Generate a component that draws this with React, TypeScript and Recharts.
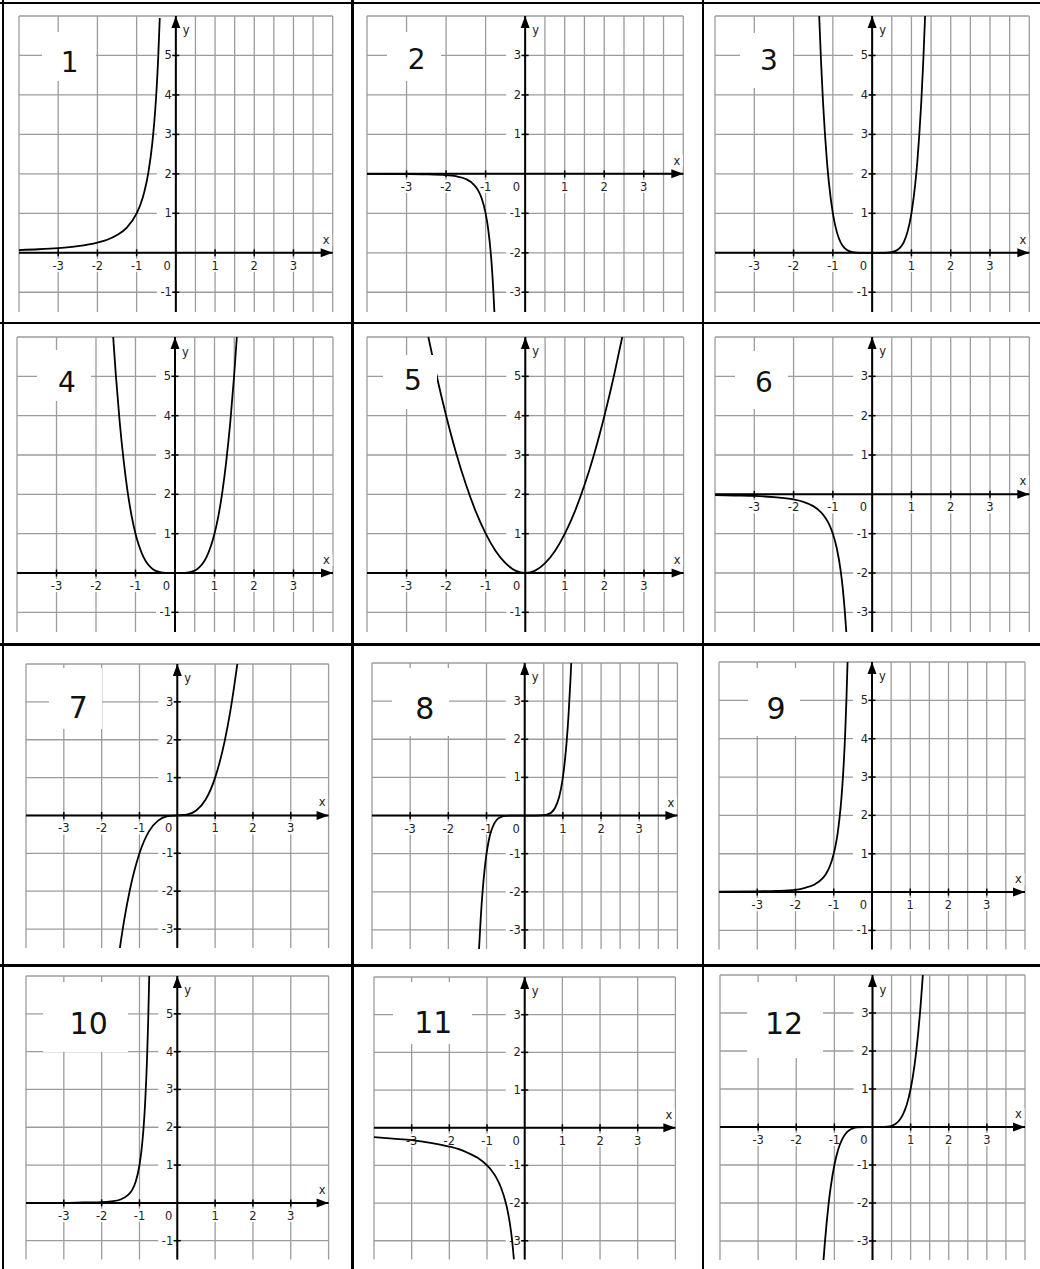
import React from "react";
import {
  LineChart,
  Line,
  XAxis,
  YAxis,
  CartesianGrid,
  ReferenceLine,
  ReferenceDot,
} from "recharts";

// grid + tick values
const gridX = [-4, -3.5, -3, -2.5, -2, -1.5, -1, -0.5, 0, 0.5, 1, 1.5, 2, 2.5, 3, 3.5, 4];
const gridYTall = [-1.5, -1, -0.5, 0, 0.5, 1, 1.5, 2, 2.5, 3, 3.5, 4, 4.5, 5, 5.5, 6];
const gridYSquare = [-3.5, -3, -2.5, -2, -1.5, -1, -0.5, 0, 0.5, 1, 1.5, 2, 2.5, 3, 3.5, 4];
const xTickLabels = [-3, -2, -1, 1, 2, 3];
const yTickLabelsTall = [-1, 1, 2, 3, 4, 5];
const yTickLabelsSquare = [-3, -2, -1, 1, 2, 3];

const panelNames = ["1", "2", "3", "4", "5", "6", "7", "8", "9", "10", "11", "12"];
const panelKinds = ["tall", "square", "tall", "tall", "tall", "square", "square", "square", "tall", "tall", "square", "square"];

// curves
const curve1X = [-4, -3.5, -3, -2.5, -2, -1.75, -1.5, -1.25, -1, -0.9, -0.8, -0.7, -0.6, -0.55, -0.5, -0.45, -0.41];
const curve1Y = [0.07, 0.09, 0.12, 0.17, 0.26, 0.33, 0.45, 0.64, 1, 1.23, 1.56, 2.04, 2.78, 3.31, 4, 4.94, 5.95];

const curve2X = [-4, -3, -2.5, -2, -1.75, -1.5, -1.3, -1.2, -1.1, -1, -0.95, -0.9, -0.85, -0.8, -0.778];
const curve2Y = [0, -0.004, -0.01, -0.03, -0.06, -0.13, -0.27, -0.4, -0.62, -1, -1.29, -1.69, -2.25, -3.05, -3.5];

const curve3X = [-1.348, -1.3, -1.25, -1.2, -1.15, -1.1, -1, -0.9, -0.8, -0.7, -0.6, -0.5, -0.3, 0, 0.3, 0.5, 0.6, 0.7, 0.8, 0.9, 1, 1.1, 1.15, 1.2, 1.25, 1.3, 1.348];
const curve3Y = [6, 4.83, 3.81, 2.99, 2.31, 1.77, 1, 0.53, 0.26, 0.12, 0.05, 0.02, 0, 0, 0, 0.02, 0.05, 0.12, 0.26, 0.53, 1, 1.77, 2.31, 2.99, 3.81, 4.83, 6];

const curve4X = [-1.565, -1.5, -1.4, -1.3, -1.2, -1.1, -1, -0.9, -0.8, -0.7, -0.6, -0.5, -0.4, -0.3, -0.2, 0, 0.2, 0.3, 0.4, 0.5, 0.6, 0.7, 0.8, 0.9, 1, 1.1, 1.2, 1.3, 1.4, 1.5, 1.565];
const curve4Y = [6, 5.06, 3.84, 2.86, 2.07, 1.46, 1, 0.66, 0.41, 0.24, 0.13, 0.06, 0.03, 0.01, 0, 0, 0, 0.01, 0.03, 0.06, 0.13, 0.24, 0.41, 0.66, 1, 1.46, 2.07, 2.86, 3.84, 5.06, 6];

const curve5X = [-2.45, -2.25, -2, -1.75, -1.5, -1.25, -1, -0.75, -0.5, -0.25, 0, 0.25, 0.5, 0.75, 1, 1.25, 1.5, 1.75, 2, 2.25, 2.45];
const curve5Y = [6, 5.06, 4, 3.06, 2.25, 1.56, 1, 0.56, 0.25, 0.06, 0, 0.06, 0.25, 0.56, 1, 1.56, 2.25, 3.06, 4, 5.06, 6];

const curve6X = [-4, -3.5, -3, -2.5, -2, -1.75, -1.5, -1.3, -1.2, -1.1, -1, -0.9, -0.8, -0.75, -0.7, -0.658];
const curve6Y = [-0.02, -0.03, -0.04, -0.07, -0.13, -0.19, -0.3, -0.46, -0.58, -0.75, -1, -1.37, -1.95, -2.37, -2.92, -3.5];

const curve7X = [-1.518, -1.4, -1.25, -1, -0.75, -0.5, -0.25, 0, 0.25, 0.5, 0.75, 1, 1.25, 1.4, 1.5, 1.587];
const curve7Y = [-3.5, -2.74, -1.95, -1, -0.42, -0.13, -0.02, 0, 0.02, 0.13, 0.42, 1, 1.95, 2.74, 3.38, 4];

const curve8X = [-1.196, -1.15, -1.1, -1.05, -1, -0.95, -0.9, -0.8, -0.7, -0.6, -0.5, -0.3, 0, 0.3, 0.5, 0.6, 0.7, 0.8, 0.9, 0.95, 1, 1.05, 1.1, 1.15, 1.2, 1.219];
const curve8Y = [-3.5, -2.66, -1.95, -1.41, -1, -0.7, -0.48, -0.21, -0.08, -0.03, -0.01, 0, 0, 0, 0.01, 0.03, 0.08, 0.21, 0.48, 0.7, 1, 1.41, 1.95, 2.66, 3.58, 4];

const curve9X = [-4, -3, -2.5, -2, -1.75, -1.5, -1.3, -1.2, -1.1, -1, -0.95, -0.9, -0.85, -0.8, -0.75, -0.7, -0.67, -0.639];
const curve9Y = [0.01, 0.02, 0.03, 0.06, 0.11, 0.2, 0.35, 0.48, 0.68, 1, 1.23, 1.52, 1.92, 2.44, 3.16, 4.16, 4.98, 6];

const curve10X = [-4, -3, -2.5, -2, -1.75, -1.5, -1.3, -1.2, -1.1, -1, -0.95, -0.9, -0.85, -0.8, -0.77, -0.742];
const curve10Y = [0, 0, 0.01, 0.02, 0.04, 0.09, 0.21, 0.33, 0.56, 1, 1.36, 1.88, 2.65, 3.81, 4.8, 6];

const curve11X = [-4, -3.5, -3, -2.5, -2, -1.75, -1.5, -1.25, -1, -0.875, -0.75, -0.625, -0.5, -0.45, -0.4, -0.35, -0.32, -0.286];
const curve11Y = [-0.25, -0.29, -0.33, -0.4, -0.5, -0.57, -0.67, -0.8, -1, -1.14, -1.33, -1.6, -2, -2.22, -2.5, -2.86, -3.13, -3.5];

const curve12X = [-1.285, -1.25, -1.2, -1.15, -1.1, -1, -0.9, -0.8, -0.7, -0.6, -0.5, -0.4, -0.2, 0, 0.2, 0.4, 0.5, 0.6, 0.7, 0.8, 0.9, 1, 1.1, 1.15, 1.2, 1.25, 1.3, 1.32];
const curve12Y = [-3.5, -3.05, -2.49, -2.01, -1.61, -1, -0.59, -0.33, -0.17, -0.08, -0.03, -0.01, 0, 0, 0, 0.01, 0.03, 0.08, 0.17, 0.33, 0.59, 1, 1.61, 2.01, 2.49, 3.05, 3.71, 4];

const curveXs = [curve1X, curve2X, curve3X, curve4X, curve5X, curve6X, curve7X, curve8X, curve9X, curve10X, curve11X, curve12X];
const curveYs = [curve1Y, curve2Y, curve3Y, curve4Y, curve5Y, curve6Y, curve7Y, curve8Y, curve9Y, curve10Y, curve11Y, curve12Y];

// page layout: plot rect [left, top, width, height]
const plotBoxes = [
  [19.3, 15.7, 313.7, 296],
  [366.7, 15.7, 316.3, 296],
  [715, 15.7, 314.3, 296],
  [17.3, 337, 316, 295],
  [366.7, 337, 316.6, 295],
  [715, 337, 314.3, 295],
  [25.7, 663.7, 302.6, 284],
  [372.3, 662.7, 305.4, 286],
  [719, 661.7, 306, 287.6],
  [25.7, 975.7, 302.6, 283.6],
  [374.3, 976.7, 301.4, 282.6],
  [720, 975, 305, 285],
];
// white number boxes [left, top, width, height] and number centres
const nameBoxes = [
  [42, 32, 54, 49],
  [387, 32, 54, 49],
  [740, 33, 53, 55],
  [37, 350, 54, 51],
  [383, 355, 54, 54],
  [735, 351, 53, 58],
  [49, 668, 53, 61],
  [392, 668, 57, 68],
  [748, 668, 52, 68],
  [43, 982, 85, 70],
  [393, 982, 79, 62],
  [747, 982, 76, 76],
];
const nameCenters = [
  [69.7, 62.7], [416.7, 60], [769, 61],
  [67, 383], [413, 381], [764, 382.7],
  [78.3, 707.7], [424.7, 708.5], [776, 709],
  [88.7, 1024], [433.3, 1023], [784, 1024],
];

const FONT = "'DejaVu Sans', Verdana, sans-serif";
const LABEL = "#222";
const M = 14;

const xTickShape = (label: string) => (p: any) => (
  <g>
    <rect x={p.cx - 9} y={p.cy + 6} width={19} height={13} fill="#fff" />
    <line x1={p.cx} x2={p.cx} y1={p.cy - 3.5} y2={p.cy + 3.5} stroke="#000" strokeWidth={1.5} />
    <text x={p.cx} y={p.cy + 17} textAnchor="middle" fontSize={11.5} fontFamily={FONT} fill={LABEL}>
      {label}
    </text>
  </g>
);

const yTickShape = (label: string) => (p: any) => (
  <g>
    <rect x={p.cx - 19} y={p.cy - 7} width={15} height={14} fill="#fff" />
    <line x1={p.cx - 3.5} x2={p.cx + 3.5} y1={p.cy} y2={p.cy} stroke="#000" strokeWidth={1.5} />
    <text x={p.cx - 4} y={p.cy + 4} textAnchor="end" fontSize={11.5} fontFamily={FONT} fill={LABEL}>
      {label}
    </text>
  </g>
);

const originShape = (p: any) => (
  <g>
    <rect x={p.cx - 14} y={p.cy + 6} width={11} height={13} fill="#fff" />
    <text x={p.cx - 5} y={p.cy + 17} textAnchor="end" fontSize={11.5} fontFamily={FONT} fill={LABEL}>
      0
    </text>
  </g>
);

const yArrowShape = (p: any) => (
  <g>
    <rect x={p.cx + 5} y={p.cy + 9} width={12} height={13} fill="#fff" />
    <text x={p.cx + 7} y={p.cy + 18.5} fontSize={11.5} fontFamily={FONT} fill={LABEL}>
      y
    </text>
    <polygon points={`${p.cx},${p.cy} ${p.cx - 4.5},${p.cy + 12} ${p.cx + 4.5},${p.cy + 12}`} fill="#000" />
  </g>
);

const xArrowShape = (p: any) => (
  <g>
    <rect x={p.cx - 12.5} y={p.cy - 19} width={12} height={12} fill="#fff" />
    <text x={p.cx - 6.5} y={p.cy - 9} textAnchor="middle" fontSize={11.5} fontFamily={FONT} fill={LABEL}>
      x
    </text>
    <polygon points={`${p.cx},${p.cy} ${p.cx - 12},${p.cy - 4.5} ${p.cx - 12},${p.cy + 4.5}`} fill="#000" />
  </g>
);

function Panel({ idx }: { idx: number }) {
  const [left, top, w, h] = plotBoxes[idx];
  const tall = panelKinds[idx] === "tall";
  const gridY = tall ? gridYTall : gridYSquare;
  const yLabels = tall ? yTickLabelsTall : yTickLabelsSquare;
  const yMin = gridY[0];
  const yMax = gridY[gridY.length - 1];
  const pts = curveXs[idx].map((x, i) => ({ x, y: curveYs[idx][i] }));
  const [bx, by, bw, bh] = nameBoxes[idx];
  const [tx, ty] = nameCenters[idx];
  const fs = idx < 6 ? 28 : 30;
  const pos: React.CSSProperties = { position: "absolute", left: left - M, top: top - M };
  const size = { width: w + 2 * M, height: h + 2 * M, margin: { top: M, right: M, bottom: M, left: M } };

  return (
    <>
      {/* grid, axes and labels */}
      <div style={pos}>
        <LineChart {...size}>
          <CartesianGrid stroke="#9c9c9c" strokeWidth={1.3} verticalValues={gridX} horizontalValues={gridY} />
          <XAxis type="number" dataKey="x" domain={[-4, 4]} ticks={gridX} hide allowDataOverflow />
          <YAxis type="number" domain={[yMin, yMax]} ticks={gridY} hide allowDataOverflow />
          {xTickLabels.map((v) => (
            <ReferenceDot key={`xt${v}`} x={v} y={0} r={0} ifOverflow="visible" shape={xTickShape(String(v))} />
          ))}
          {yLabels.map((v) => (
            <ReferenceDot key={`yt${v}`} x={0} y={v} r={0} ifOverflow="visible" shape={yTickShape(String(v))} />
          ))}
          <ReferenceDot x={0} y={0} r={0} ifOverflow="visible" shape={originShape} />
          <ReferenceLine y={0} stroke="#000" strokeWidth={2} ifOverflow="visible" />
          <ReferenceLine x={0} stroke="#000" strokeWidth={2} ifOverflow="visible" />
          <ReferenceDot x={0} y={yMax} r={0} ifOverflow="visible" shape={yArrowShape} />
          <ReferenceDot x={4} y={0} r={0} ifOverflow="visible" shape={xArrowShape} />
        </LineChart>
      </div>
      {/* the curve, on top */}
      <div style={pos}>
        <LineChart {...size}>
          <XAxis type="number" dataKey="x" domain={[-4, 4]} hide allowDataOverflow />
          <YAxis type="number" domain={[yMin, yMax]} hide allowDataOverflow />
          <Line
            data={pts}
            dataKey="y"
            type="monotone"
            dot={false}
            activeDot={false}
            stroke="#000"
            strokeWidth={1.8}
            isAnimationActive={false}
          />
        </LineChart>
      </div>
      <div style={{ position: "absolute", left: bx, top: by, width: bw, height: bh, background: "#fff" }} />
      <div
        style={{
          position: "absolute",
          left: tx,
          top: ty,
          transform: "translate(-50%, -50%)",
          fontFamily: FONT,
          fontSize: fs,
          lineHeight: 1,
          color: "#111",
          whiteSpace: "nowrap",
        }}
      >
        {panelNames[idx]}
      </div>
    </>
  );
}

const vLines = [1.7, 351, 701.7];
const hLines = [1.7, 321.7, 643.3, 964.3];

export default function App() {
  return (
    <div
      style={{
        position: "absolute",
        left: 0,
        top: 0,
        width: 1040,
        height: 1269,
        overflow: "hidden",
        background: "#fff",
      }}
    >
      {panelNames.map((_, i) => (
        <Panel key={i} idx={i} />
      ))}
      {vLines.map((x) => (
        <div key={`v${x}`} style={{ position: "absolute", left: x, top: 0, width: 2.5, height: 1269, background: "#000" }} />
      ))}
      {hLines.map((y) => (
        <div key={`h${y}`} style={{ position: "absolute", left: 0, top: y, width: 1040, height: 2.5, background: "#000" }} />
      ))}
    </div>
  );
}
